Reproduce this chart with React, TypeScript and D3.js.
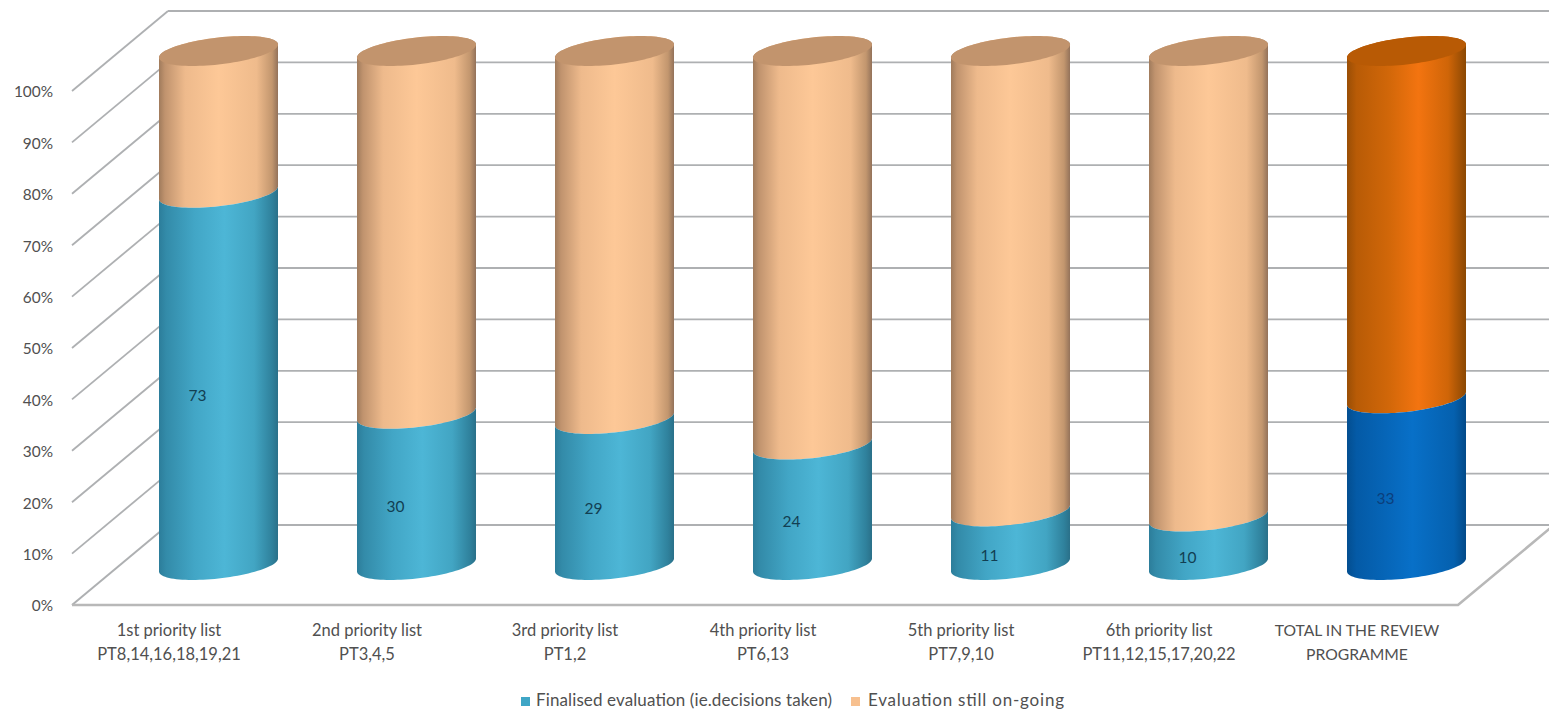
import React from "react";
import * as d3 from "d3";

const width = 1549;
const height = 711;

const categories = [
  ["1st priority list", "PT8,14,16,18,19,21"],
  ["2nd priority list", "PT3,4,5"],
  ["3rd priority list", "PT1,2"],
  ["4th priority list", "PT6,13"],
  ["5th priority list", "PT7,9,10"],
  ["6th priority list", "PT11,12,15,17,20,22"],
  ["TOTAL IN THE REVIEW", "PROGRAMME"],
];
const finalised = [73, 30, 29, 24, 11, 10, 33];
const ticks = [0, 10, 20, 30, 40, 50, 60, 70, 80, 90, 100];
const legendLabels = ["Finalised evaluation (ie.decisions taken)", "Evaluation still on-going"];

const FONT = "Lato, Carlito, 'Open Sans', sans-serif";
const GRID = "#aeb0b2";
const TEXT = "#505050";

// Wall (back plane), front edge of the floor, and cylinder interface heights
const yBack = d3.scaleLinear().domain([0, 100]).range([525, 11]);
const yFront = d3.scaleLinear().domain([0, 100]).range([605, 91]);
const ySeg = d3.scaleLinear().domain([0, 100]).range([568, 54]);
const xCentre = d3
  .scalePoint<number>()
  .domain(d3.range(categories.length))
  .range([218.5, 1406.5]);

const wallLeft = 168;
const frontLeft = 72;
const frontRight = 1458;
const capLift = 3;
const rx = 59.5;
const ry = 13.5;
const shear = 6.5;

// Point on a sheared ellipse: the cylinder seen from slightly above and to the side
const rim = (cx: number, cy: number, t: number): [number, number] => [
  cx + rx * Math.cos(t),
  cy + ry * Math.sin(t) - shear * Math.cos(t),
];
const line = d3.line();
const frontArc = d3.range(0, 49).map((i) => (Math.PI * i) / 48);
const backArc = frontArc.map((t) => t + Math.PI);

// Band between two rims: upper rim's visible arc closed along the lower rim's front arc
function band(cx: number, yTop: number, yBottom: number) {
  const lower = frontArc.map((t) => rim(cx, yBottom, t));
  const upper = frontArc.map((t) => rim(cx, yTop, Math.PI - t));
  return line([...lower, ...upper]) + "Z";
}
function topBand(cx: number, yTop: number, yBottom: number) {
  const lower = frontArc.map((t) => rim(cx, yBottom, t));
  const upper = backArc.map((t) => rim(cx, yTop, t));
  return line([...lower, ...upper]) + "Z";
}
function cap(cx: number, cy: number) {
  return line([...frontArc, ...backArc].map((t) => rim(cx, cy, t))) + "Z";
}

type Stop = [number, string];
const gradients: Record<string, Stop[]> = {
  teal: [[0, "#2c7d9a"], [0.06, "#338ba9"], [0.3, "#42a6c6"], [0.55, "#4db6d6"], [0.8, "#42a5c3"], [0.95, "#2f819c"], [1, "#2a7089"]],
  peach: [[0, "#a07b5c"], [0.05, "#c0936e"], [0.22, "#eeba8c"], [0.5, "#fdc897"], [0.82, "#efbb8c"], [0.95, "#c2966e"], [1, "#93725a"]],
  navy: [[0, "#034e90"], [0.08, "#045aa6"], [0.55, "#0870c8"], [0.9, "#0560ae"], [1, "#034a88"]],
  orange: [[0, "#9a4e05"], [0.08, "#b85b06"], [0.35, "#d16709"], [0.6, "#f37410"], [0.85, "#cf6508"], [1, "#8b4803"]],
};

export default function App() {
  const total = categories.length - 1;
  return (
    <svg
      width={width}
      height={height}
      style={{ position: "absolute", left: 0, top: 0, display: "block", background: "#fff" }}
      fontFamily={FONT}
    >
      <defs>
        {Object.entries(gradients).map(([id, stops]) => (
          <linearGradient key={id} id={id} x1="0" x2="1" y1="0" y2="0">
            {stops.map(([o, c]) => (
              <stop key={o} offset={o} stopColor={c} />
            ))}
          </linearGradient>
        ))}
      </defs>

      {/* Back wall and side wall gridlines */}
      {ticks.map((t) => (
        <g key={t} stroke={GRID} strokeWidth={t === 0 ? 2 : 1.8} fill="none">
          <line x1={frontLeft} y1={yFront(t)} x2={wallLeft} y2={yBack(t)} />
          <line x1={wallLeft} y1={yBack(t)} x2={width} y2={yBack(t)} />
        </g>
      ))}
      {/* Floor outline */}
      <path
        d={line([
          [frontLeft, yFront(0)],
          [frontRight, yFront(0)],
          [frontRight + wallLeft - frontLeft, yBack(0)],
        ]) as string}
        fill="none"
        stroke="#b8b8b8"
        strokeWidth={2.6}
      />

      {/* Percentage axis */}
      {ticks.map((t) => (
        <text key={t} x={53} y={yFront(t) + 1} dy="0.35em" textAnchor="end" fontSize={15.4} fill={TEXT}>
          {t}%
        </text>
      ))}

      {/* Stacked cylinders */}
      {finalised.map((v, i) => {
        const cx = xCentre(i) as number;
        const isTotal = i === total;
        const base = ySeg(0) - capLift;
        const top = ySeg(100) - capLift;
        const split = ySeg(v);
        return (
          <g key={i}>
            <path d={topBand(cx, top, split)} fill={`url(#${isTotal ? "orange" : "peach"})`} />
            <path d={band(cx, split, base)} fill={`url(#${isTotal ? "navy" : "teal"})`} />
            <path d={cap(cx, top)} fill={isTotal ? "#b85a05" : "#c2946d"} />
            <text
              x={cx - 21}
              y={ySeg(v / 2) + 15.4}
              dy="0.35em"
              textAnchor="middle"
              fontSize={15.5}
              fill={isTotal ? "#0b3f7c" : "#123f52"}
            >
              {v}
            </text>
          </g>
        );
      })}

      {/* Category labels; the all-caps total is set a little smaller */}
      {categories.map((lines, i) => (
        <text key={i} textAnchor="middle" fontSize={i === total ? 15.7 : 16.5} fill={TEXT}>
          {lines.map((l, j) => (
            <tspan key={j} x={(xCentre(i) as number) - 49.5} y={636 + j * 24}>
              {l}
            </tspan>
          ))}
        </text>
      ))}

      {/* Legend */}
      <rect x={521} y={697} width={9} height={9} fill="#3fa6c6" />
      <text x={536} y={706} fontSize={17} fill={TEXT} textLength={296}>
        {legendLabels[0]}
      </text>
      <rect x={851} y={697} width={9} height={9} fill="#f7c08f" />
      <text x={868} y={706} fontSize={17} fill={TEXT} textLength={196}>
        {legendLabels[1]}
      </text>
    </svg>
  );
}
